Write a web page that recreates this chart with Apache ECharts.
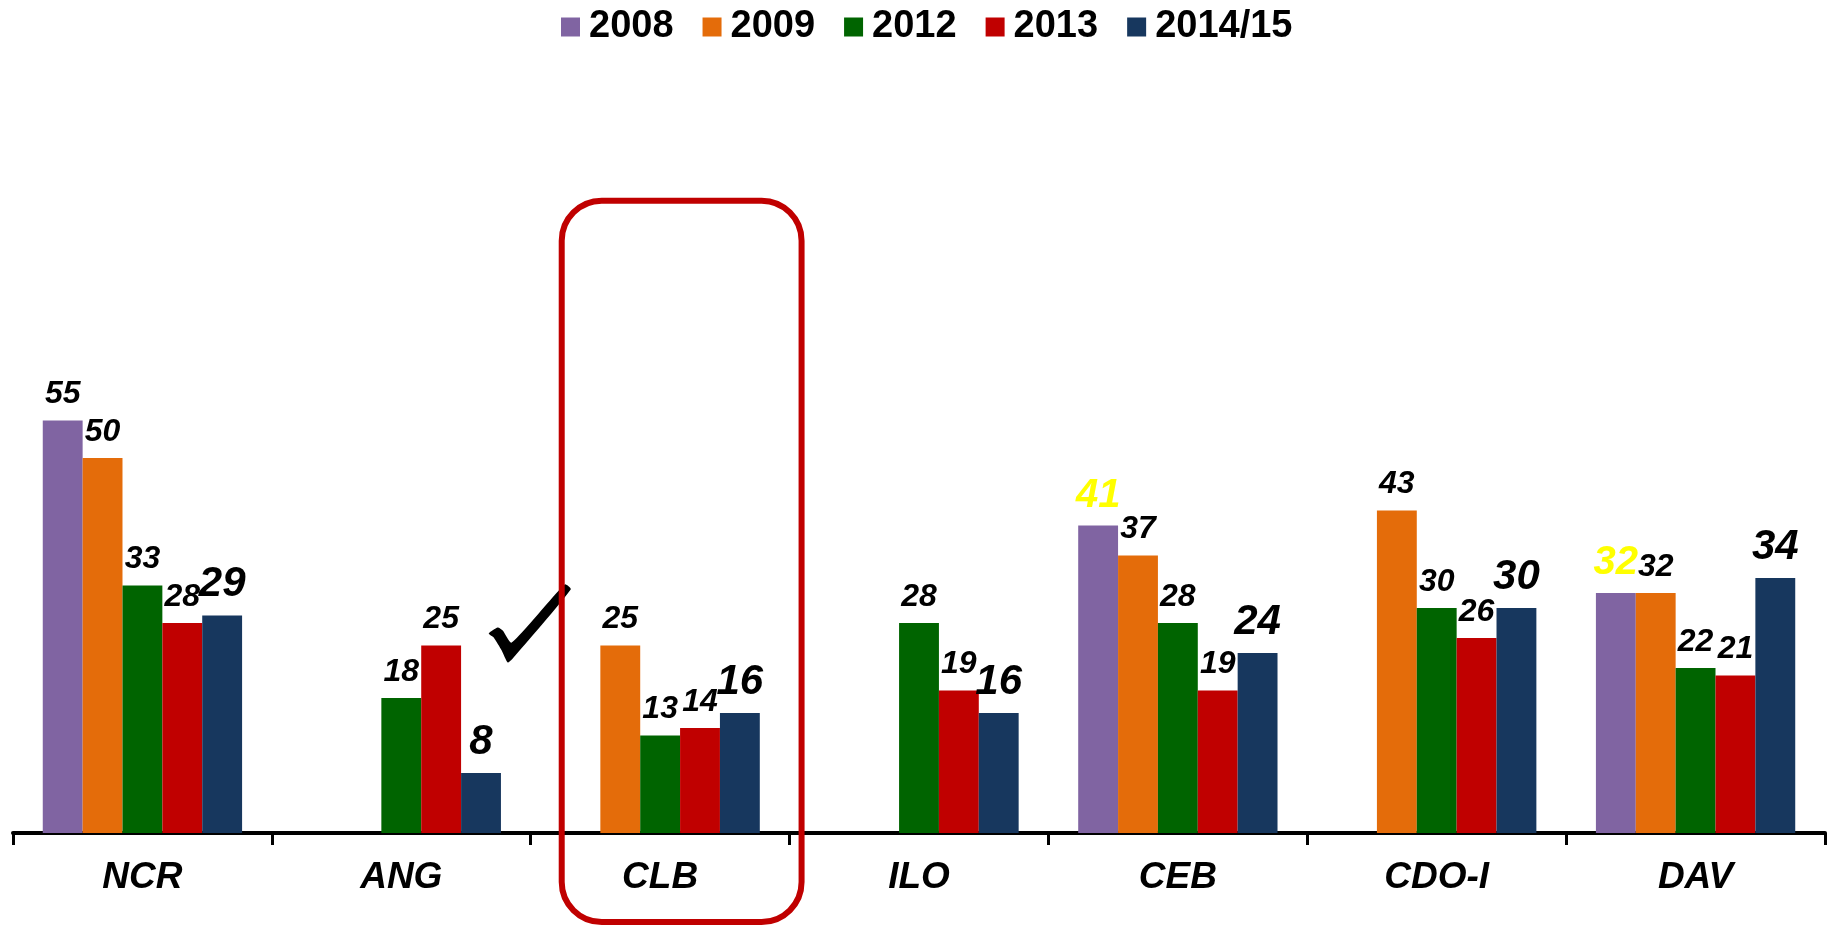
<!DOCTYPE html>
<html>
<head>
<meta charset="utf-8">
<script src="https://cdn.jsdelivr.net/npm/echarts@6/dist/echarts.min.js"></script>
<style>
  html, body { margin: 0; padding: 0; background: #fff; }
  #chart { width: 1831px; height: 928px; }
</style>
</head>
<body>
<div id="chart"></div>
<script>
const regions = ['NCR', 'ANG', 'CLB', 'ILO', 'CEB', 'CDO-I', 'DAV'];
const years = ['2008', '2009', '2012', '2013', '2014/15'];
const colors = ['#8064A2', '#E46C0A', '#006400', '#C00000', '#17375E'];

const v2008 = [55, null, null, null, 41, null, 32];
const v2009 = [50, null, 25, null, 37, 43, 32];
const v2012 = [33, 18, 13, 28, 28, 30, 22];
const v2013 = [28, 25, 14, 19, 19, 26, 21];
const v2015 = [29, 8, 16, 16, 24, 30, 34];

// 2008 labels that are printed in yellow
const yellow2008 = ['CEB', 'DAV'];

const FONT = "'Liberation Sans', Arial, sans-serif";

const chart = echarts.init(document.getElementById('chart'));

function makeData(values, highlight) {
  return values.map((v, i) => {
    if (v === null) return '-';
    if (highlight && highlight.includes(regions[i])) {
      return { value: v, label: { color: '#FFFF00', fontSize: 40 } };
    }
    return v;
  });
}

function barSeries(name, values, color, fontSize, highlight) {
  return {
    name: name,
    type: 'bar',
    data: makeData(values, highlight),
    barGap: 0,
    barCategoryGap: '23%',
    itemStyle: { color: color },
    label: {
      show: true,
      position: 'top',
      distance: 10,
      fontFamily: FONT,
      fontWeight: 'bold',
      fontStyle: 'italic',
      fontSize: fontSize,
      color: '#000'
    }
  };
}

const option = {
  animation: false,
  color: colors,
  legend: {
    top: 3,
    left: 556,
    itemWidth: 19,
    itemHeight: 19,
    itemGap: 29,
    icon: 'rect',
    textStyle: {
      fontFamily: FONT,
      fontWeight: 'bold',
      fontSize: 38,
      color: '#000',
      padding: [0, 0, 0, 4]
    },
    data: years
  },
  grid: {
    left: 13,
    right: 6,
    top: 233,
    bottom: 95
  },
  xAxis: {
    type: 'category',
    data: regions,
    axisLine: { lineStyle: { color: '#000', width: 4 } },
    axisTick: { show: true, length: 12, lineStyle: { color: '#000', width: 3 } },
    axisLabel: {
      margin: 26,
      fontFamily: FONT,
      fontWeight: 'bold',
      fontStyle: 'italic',
      fontSize: 37,
      color: '#000'
    }
  },
  yAxis: {
    type: 'value',
    min: 0,
    max: 80,
    show: false
  },
  series: [
    barSeries(years[0], v2008, colors[0], 32, yellow2008),
    barSeries(years[1], v2009, colors[1], 32),
    barSeries(years[2], v2012, colors[2], 32),
    barSeries(years[3], v2013, colors[3], 32),
    barSeries(years[4], v2015, colors[4], 42)
  ]
};

chart.setOption(option);

// annotations: tick mark next to ANG and rounded frame around CLB
const angX = chart.convertToPixel({ xAxisIndex: 0 }, 'ANG');
const clbX = chart.convertToPixel({ xAxisIndex: 0 }, 'CLB');
const band = clbX - angX;
const yTop = chart.convertToPixel({ yAxisIndex: 0 }, 84.3);
const yCheck = chart.convertToPixel({ yAxisIndex: 0 }, 35);

chart.setOption({
  graphic: [
    {
      type: 'polygon',
      x: angX + band / 2 - 61,
      y: yCheck,
      shape: {
        points: [[19, 63], [28, 57], [33, 60], [42, 72], [95, 14], [101, 19], [43, 88], [38, 92], [32, 80], [24, 67]],
        smooth: 0.2
      },
      style: { fill: '#000' },
      z: 10
    },
    {
      type: 'rect',
      shape: {
        x: clbX - band / 2 + 31,
        y: yTop,
        width: band - 19,
        height: 922 - yTop,
        r: 40
      },
      style: { fill: 'none', stroke: '#C00000', lineWidth: 6 },
      z: 20
    }
  ]
});
</script>
</body>
</html>
